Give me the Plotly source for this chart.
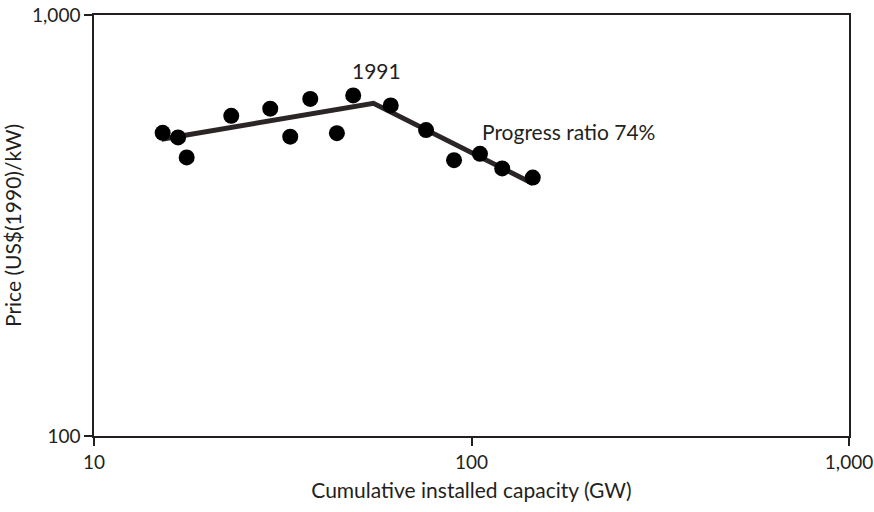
import math
import plotly.graph_objects as go

# Data
capacity_gw = [15.2, 16.7, 17.6, 23.1, 29.3, 33.1, 37.4, 44.0, 48.6, 61.1, 75.8, 89.9, 105.3, 120.6, 145.3]
price_usd_kw = [525, 512, 459, 576, 599, 514, 632, 524, 644, 610, 533, 452, 468, 432, 411]

fit_x = [15.1, 55.0, 145.3]
fit_y = [507, 617, 398]

x_tickvals = [10, 100, 1000]
x_ticktext = ["10", "100", "1,000"]
y_tickvals = [100, 1000]
y_ticktext = ["100", "1,000"]

INK = "#231f20"
FONT = "Lato"

fig = go.Figure()
fig.add_trace(go.Scatter(x=fit_x, y=fit_y, mode="lines",
                         line=dict(color="#2b2526", width=5), showlegend=False))
fig.add_trace(go.Scatter(x=capacity_gw, y=price_usd_kw, mode="markers",
                         marker=dict(color="black", size=16), showlegend=False))

fig.add_annotation(x=math.log10(56), y=math.log10(740), xref="x", yref="y", text="1991",
                   showarrow=False, font=dict(family=FONT, size=21, color=INK))
fig.add_annotation(x=math.log10(105.5), y=math.log10(528), xref="x", yref="y",
                   text="Progress ratio 74%", showarrow=False, xanchor="left",
                   font=dict(family=FONT, size=21, color=INK))

axis_common = dict(showgrid=False, zeroline=False, showline=True, linecolor=INK, linewidth=1.5,
                   mirror=True, ticks="outside", ticklen=8, tickcolor=INK, tickwidth=1.5,
                   automargin=False, ticklabeloverflow="allow",
                   tickfont=dict(family=FONT, size=19, color=INK))

fig.update_xaxes(type="log", range=[1, 3], tickvals=x_tickvals, ticktext=x_ticktext,
                 title=dict(text="Cumulative installed capacity (GW)", standoff=12,
                            font=dict(family=FONT, size=21, color=INK)), **axis_common)
fig.update_yaxes(type="log", range=[2, 3], tickvals=y_tickvals, ticktext=y_ticktext,
                 title=dict(text="Price (US$(1990)/kW)", standoff=8,
                            font=dict(family=FONT, size=21, color=INK)), **axis_common)

fig.update_layout(width=874, height=512,
                  margin=dict(l=94, r=25, t=15, b=76, autoexpand=False),
                  plot_bgcolor="white", paper_bgcolor="white")

fig.write_html("out.html", config={"displayModeBar": False},
               post_script="document.body.style.margin='0';")
